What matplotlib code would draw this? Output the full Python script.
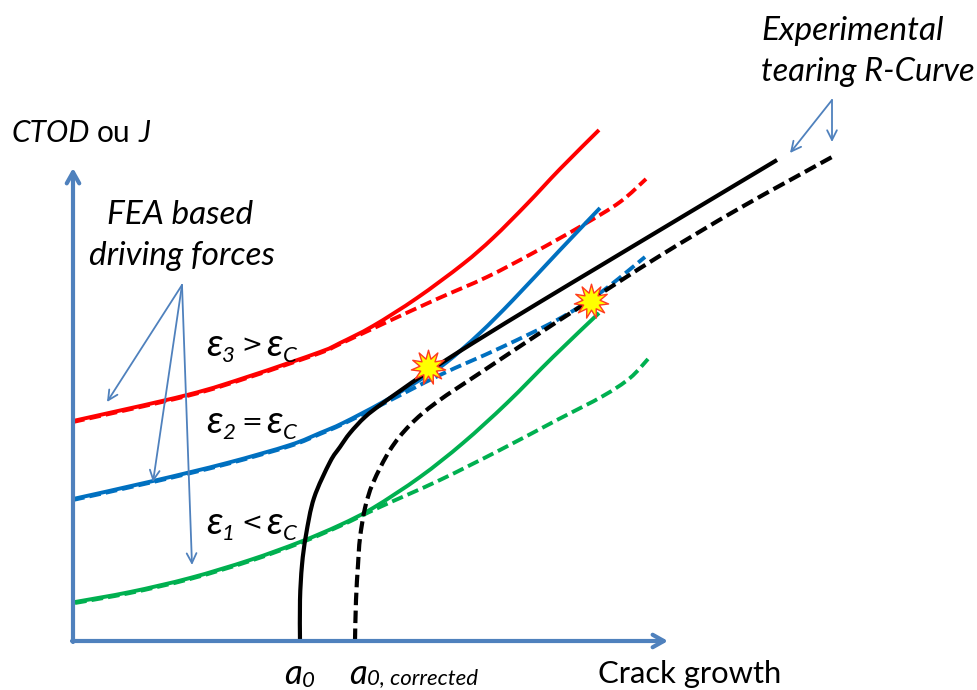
import matplotlib
matplotlib.use('Agg')
import matplotlib.pyplot as plt
from matplotlib.patches import PathPatch
from matplotlib.path import Path

plt.rcParams['font.family'] = ['Lato', 'DejaVu Sans']

# Valores (pixeles de la figura original)
red_x = [73, 187, 250, 320, 340, 373, 417, 463, 493, 527, 560, 599]
red_y = [421, 395, 376, 352, 343, 326, 298, 264, 238, 204, 169, 130]
red_d_x = [73, 187, 250, 320, 340, 387, 437, 487, 533, 583, 620, 646]
red_d_y = [422, 396, 377, 353, 344, 322, 299, 277, 253, 225, 202, 179]

blue_x = [73, 153, 227, 290, 320, 343, 383, 423, 447, 480, 513, 560, 600]
blue_y = [499, 481, 463, 445, 433, 423, 402, 378, 362, 333, 300, 250, 208]
blue_d_x = [73, 153, 227, 290, 320, 343, 383, 440, 500, 557, 600, 645]
blue_d_y = [500, 482, 464, 446, 434, 424, 404, 375, 348, 320, 293, 257]

green_x = [75, 130, 190, 250, 300, 340, 373, 420, 463, 507, 553, 599]
green_y = [602, 592, 578, 560, 542, 525, 508, 477, 443, 403, 357, 313]
green_d_x = [75, 130, 190, 250, 300, 340, 380, 440, 500, 557, 603, 630, 648]
green_d_y = [603, 593, 579, 561, 543, 526, 507, 480, 450, 420, 396, 378, 359]

black_x = [300, 300, 302, 306, 314, 330, 340, 350, 365, 383, 423, 473, 540, 600, 640, 777]
black_y = [641, 600, 565, 535, 498, 462, 447, 433, 417, 403, 375, 343, 302, 266, 242, 160]
black_d_x = [355, 356, 358, 360, 365, 373, 390, 410, 437, 483, 540, 583, 658, 740, 832]
black_d_y = [641, 600, 565, 538, 508, 483, 450, 425, 402, 371, 333, 305, 257, 208, 157]

star_x = [428, 591]
star_y = [367, 301]

azul = '#4f81bd'
rayas = (0, (3.0, 1.3))


def curva(ax, xs, ys, **kw):
    # Curva suave (Catmull-Rom pasada a Bezier) por los puntos leidos
    p = list(zip(xs, ys))
    verts = [p[0]]
    codes = [Path.MOVETO]
    for i in range(len(p) - 1):
        p0 = p[max(i - 1, 0)]
        p1 = p[i]
        p2 = p[i + 1]
        p3 = p[min(i + 2, len(p) - 1)]
        c1 = (p1[0] + (p2[0] - p0[0]) / 6, p1[1] + (p2[1] - p0[1]) / 6)
        c2 = (p2[0] - (p3[0] - p1[0]) / 6, p2[1] - (p3[1] - p1[1]) / 6)
        verts += [c1, c2, p2]
        codes += [Path.CURVE4] * 3
    ax.add_patch(PathPatch(Path(verts, codes), fill=False, capstyle='butt', **kw))


fig = plt.figure(figsize=(9.77, 6.90), dpi=100)
ax = fig.add_axes([0, 0, 1, 1])
ax.set_xlim(0, 977)
ax.set_ylim(690, 0)
ax.axis('off')

# Curvas
curva(ax, red_d_x, red_d_y, edgecolor='#ff0000', lw=2.8, ls=rayas)
curva(ax, blue_d_x, blue_d_y, edgecolor='#0070c0', lw=2.8, ls=rayas)
curva(ax, green_d_x, green_d_y, edgecolor='#00b050', lw=2.8, ls=rayas)
curva(ax, red_x, red_y, edgecolor='#ff0000', lw=2.8)
curva(ax, blue_x, blue_y, edgecolor='#0070c0', lw=2.8)
curva(ax, green_x, green_y, edgecolor='#00b050', lw=2.8)
curva(ax, black_x, black_y, edgecolor='black', lw=3)
curva(ax, black_d_x, black_d_y, edgecolor='black', lw=3, ls=rayas)

# Ejes con flecha
ax.annotate('', xy=(668, 641), xytext=(72, 641),
            arrowprops=dict(arrowstyle='->,head_length=0.8,head_width=0.45', color=azul, lw=3, shrinkA=0, shrinkB=0))
ax.annotate('', xy=(73, 168), xytext=(73, 642),
            arrowprops=dict(arrowstyle='->,head_length=0.8,head_width=0.45', color=azul, lw=3, shrinkA=0, shrinkB=0))

# Flechas finas
for x0, y0, x1, y1 in [(182, 285, 107, 402), (182, 285, 153, 482), (182, 285, 192, 565),
                       (832, 100, 790, 153), (832, 100, 832, 142)]:
    ax.annotate('', xy=(x1, y1), xytext=(x0, y0),
                arrowprops=dict(arrowstyle='->,head_length=0.7,head_width=0.35', color=azul, lw=1.3, shrinkA=0, shrinkB=0))

# Estrellas
ax.scatter(star_x, star_y, marker=(11, 1, 0), s=620, color='#ffff00', edgecolors='#ff3b1f', linewidths=1, zorder=5)

# Textos
ax.text(761, 31, 'Experimental', fontsize=24, style='italic', va='center')
ax.text(761, 72, 'tearing R-Curve', fontsize=23.5, style='italic', va='center')
ax.text(12, 133, 'CTOD', fontsize=21.5, style='italic', va='center')
ax.text(97, 133, 'ou', fontsize=21.5, va='center')
ax.text(139, 133, 'J', fontsize=21.5, style='italic', va='center')
ax.text(180, 215, 'FEA based', fontsize=24, style='italic', va='center', ha='center')
ax.text(182, 256, 'driving forces', fontsize=24, style='italic', va='center', ha='center')
for y, i, signo in [(345, 3, '>'), (422, 2, '='), (523, 1, '<')]:
    ax.text(206, y, '\u03b5', fontsize=28, style='italic', va='center')
    ax.text(222, y + 11, str(i), fontsize=16, style='italic', va='center')
    ax.text(241, y, signo, fontsize=18, family='DejaVu Sans', va='center')
    ax.text(266, y, '\u03b5', fontsize=28, style='italic', va='center')
    ax.text(283, y + 11, 'C', fontsize=16, style='italic', va='center')
ax.text(284, 674, 'a', fontsize=25, style='italic', va='center')
ax.text(302, 681, '0', fontsize=16, style='italic', va='center')
ax.text(349, 674, 'a', fontsize=25, style='italic', va='center')
ax.text(367, 678, '0, corrected', fontsize=16, style='italic', va='center')
ax.text(598, 674, 'Crack growth', fontsize=22.3, va='center')

fig.savefig('out.png', dpi=100)
